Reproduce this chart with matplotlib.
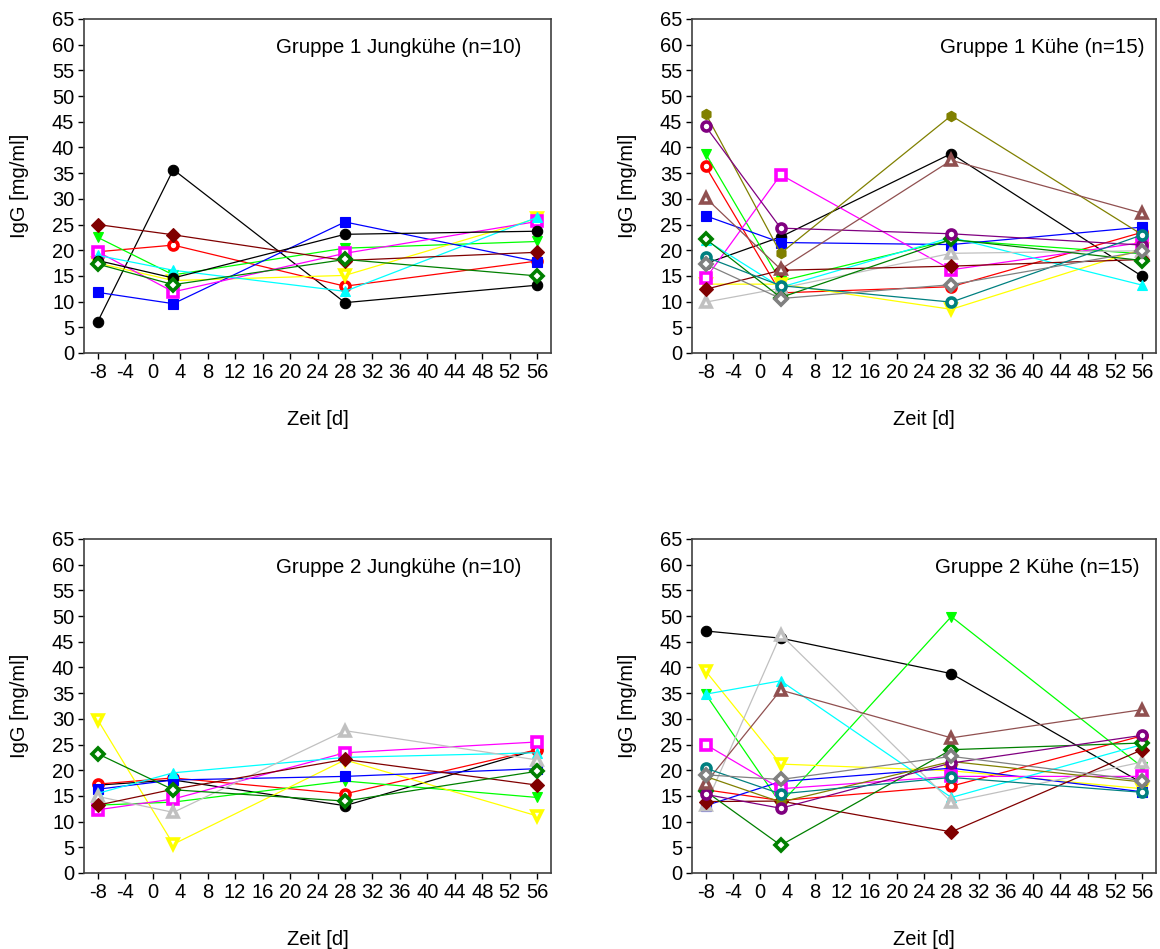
import numpy as np
import matplotlib
matplotlib.use('Agg')
import matplotlib.pyplot as plt

plt.rcParams['font.family'] = ['Liberation Sans', 'DejaVu Sans']
plt.rcParams['axes.unicode_minus'] = False

# sampling days
days = [-8, 3, 28, 56]

# IgG [mg/ml] per animal, one row per animal (values at days above)
g1_jung = [
    [6.1, 35.7, 9.8, 13.2],    # black
    [19.7, 21.0, 13.0, 17.9],  # red
    [22.5, 15.2, 20.4, 21.7],  # green
    [17.5, 14.1, 15.1, 26.2],  # yellow
    [11.8, 9.6, 25.5, 17.8],   # blue
    [19.7, 11.9, 19.4, 25.6],  # magenta
    [19.0, 16.1, 12.0, 26.4],  # cyan
    [18.0, 14.6, 23.1, 23.7],  # black (2)
    [25.0, 23.0, 18.0, 19.6],  # maroon
    [17.3, 13.3, 18.2, 15.0],  # dark green
]
g1_kuehe = [
    [17.4, 22.6, 38.8, 14.9],
    [36.3, 11.7, 12.9, 23.5],
    [38.8, 14.0, 22.0, 19.3],
    [13.4, 13.4, 8.5, 20.2],
    [26.7, 21.5, 21.1, 24.5],
    [14.5, 34.7, 16.2, 21.5],
    [22.0, 12.8, 22.5, 13.2],
    [9.9, 12.6, 19.4, 19.9],
    [12.4, 16.1, 16.9, 18.2],
    [22.2, 10.8, 22.1, 18.0],
    [46.6, 19.4, 46.2, 23.0],
    [44.1, 24.3, 23.2, 21.0],
    [30.2, 16.3, 37.5, 27.2],
    [18.7, 13.1, 9.9, 23.0],
    [17.3, 10.6, 13.3, 19.8],
]
g2_jung = [
    [17.1, 18.1, 13.1, 24.0],
    [17.3, 18.5, 15.4, 24.0],
    [13.2, 13.8, 17.9, 14.7],
    [29.8, 5.6, 22.0, 11.1],
    [16.3, 18.1, 18.8, 20.3],
    [12.3, 14.4, 23.4, 25.5],
    [15.5, 19.5, 22.5, 23.4],
    [14.9, 11.8, 27.7, 22.0],
    [13.2, 16.3, 22.1, 17.1],
    [23.2, 16.2, 14.0, 19.8],
]
g2_kuehe = [
    [47.1, 45.7, 38.8, 17.5],
    [16.2, 14.1, 16.9, 26.7],
    [34.8, 13.5, 49.9, 20.6],
    [39.3, 21.2, 19.9, 16.4],
    [13.1, 17.8, 20.4, 15.8],
    [25.0, 16.4, 18.8, 18.8],
    [34.8, 37.4, 14.7, 25.0],
    [13.2, 46.4, 13.8, 21.6],
    [13.9, 14.0, 8.0, 24.0],
    [15.9, 5.4, 24.0, 25.3],
    [18.8, 13.8, 21.7, 17.7],
    [15.3, 12.6, 21.4, 26.8],
    [17.5, 35.6, 26.3, 31.8],
    [20.4, 15.4, 18.6, 15.7],
    [19.1, 18.2, 22.7, 18.0],
]

titles = ['Gruppe 1 Jungkühe (n=10)', 'Gruppe 1 Kühe (n=15)',
          'Gruppe 2 Jungkühe (n=10)', 'Gruppe 2 Kühe (n=15)']

# sigmaplot-like symbol sequence: (colour, marker, filled)
styles = [
    ('#000000', 'o', True), ('#FF0000', 'o', False), ('#00FF00', 'v', True),
    ('#FFFF00', 'v', False), ('#0000FF', 's', True), ('#FF00FF', 's', False),
    ('#00FFFF', '^', True), ('#C0C0C0', '^', False), ('#800000', 'D', True),
    ('#008000', 'D', False), ('#808000', 'h', True), ('#800080', 'o', False),
    ('#905050', '^', False), ('#008080', 'o', False), ('#808080', 'D', False),
]
tl_styles = list(styles[:10])
tl_styles[7] = styles[0]   # second black animal in first panel

W, H = 1160, 949
fig = plt.figure(figsize=(W / 100, H / 100), dpi=100)

boxes = [(84, 19, 551, 353), (692, 19, 1156, 353),
         (84, 539, 551, 873), (692, 539, 1156, 873)]
text_x = [18.0, 26.4, 18.0, 25.6]
panels = [g1_jung, g1_kuehe, g2_jung, g2_kuehe]
panel_styles = [tl_styles, styles, styles[:10], styles]
fs = 14.5

for k in range(4):
    x0, y0, x1, y1 = boxes[k]
    ax = fig.add_axes([x0 / W, 1 - y1 / H, (x1 - x0) / W, (y1 - y0) / H])
    for vals, (c, m, filled) in zip(panels[k], panel_styles[k]):
        ms = 7.5
        if filled:
            ax.plot(days, vals, color=c, lw=0.9, marker=m, ms=ms, mfc=c, mec=c, mew=0.8)
        else:
            ax.plot(days, vals, color=c, lw=0.9, marker=m, ms=ms - 1, mfc='white', mec=c, mew=2.6)
    ax.set_xlim(-10, 58)
    ax.set_ylim(0, 65)
    ax.set_xticks(np.arange(-8, 57, 4))
    ax.set_yticks(np.arange(0, 66, 5))
    ax.tick_params(direction='out', length=4, width=1, labelsize=fs, colors='#000000', pad=3)
    for sp in ax.spines.values():
        sp.set_color('#404040')
        sp.set_linewidth(1.2)
    ax.set_ylabel('IgG [mg/ml]', fontsize=fs)
    ax.yaxis.set_label_coords(-0.118, 0.5)
    ax.set_xlabel('Zeit [d]', fontsize=fs)
    ax.xaxis.set_label_coords(0.5, -0.17)
    ax.text(text_x[k], 59.5, titles[k], fontsize=14.8, ha='left', va='center')

plt.savefig('out.png', dpi=100)
